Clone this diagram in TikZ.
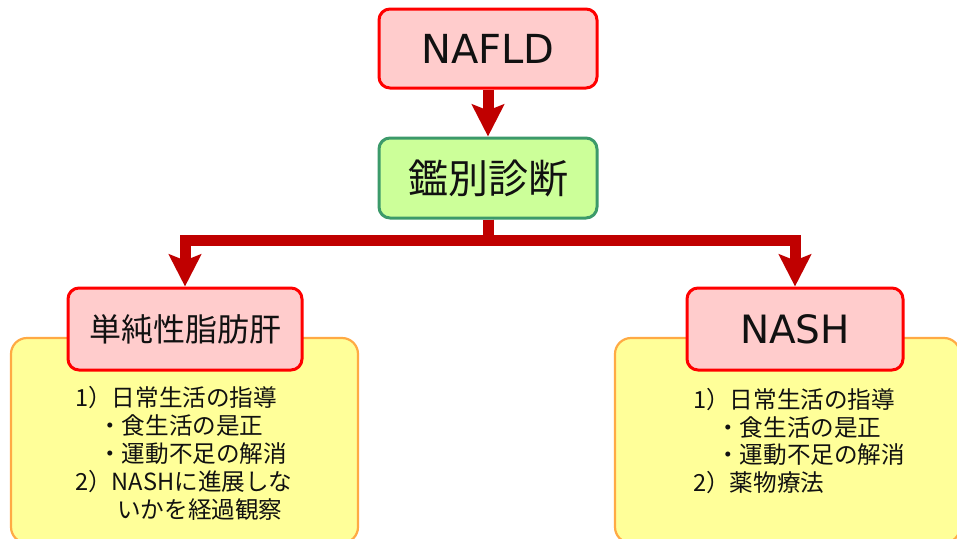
\documentclass[tikz,border=0pt]{standalone}
\usepackage{fontspec}
\setmainfont{DejaVu Sans}
\newfontfamily\jp{Noto Sans CJK JP}
\newfontfamily\lat{DejaVu Sans}
\usetikzlibrary{arrows.meta}
\definecolor{redline}{HTML}{FF0000}
\definecolor{redfill}{HTML}{FFCCCC}
\definecolor{greenline}{HTML}{3C9A6A}
\definecolor{greenfill}{HTML}{CCFF99}
\definecolor{yelfill}{HTML}{FFFF99}
\definecolor{yelline}{HTML}{FFAA44}
\definecolor{arrowred}{HTML}{C00000}
\definecolor{txt}{HTML}{111111}
\tikzset{
  redbox/.style={draw=redline, fill=redfill, line width=3pt, rounded corners=11pt, inner sep=0pt, text=txt},
  greenbox/.style={draw=greenline, fill=greenfill, line width=3pt, rounded corners=11pt, inner sep=0pt, text=txt},
  yelbox/.style={draw=yelline, fill=yelfill, line width=2.2pt, rounded corners=16pt},
  bigarrow/.style={draw=arrowred, line width=11pt, line join=miter, -{Stealth[length=32pt,width=32pt,inset=6pt]}},
  bodytext/.style={anchor=base west, inner sep=0pt, text=txt, font=\jp\fontsize{23.6pt}{28pt}\selectfont}
}
\begin{document}
\begin{tikzpicture}[x=1pt,y=-1pt]
\useasboundingbox (0,0) rectangle (957,538);
\clip (0,0) rectangle (957,538);
% yellow panels
\draw[yelbox] (11,338) rectangle (358,543);
\draw[yelbox] (615,338) rectangle (960,543);
% title boxes
\node[redbox, minimum width=218pt, minimum height=79pt, font=\lat\fontsize{40pt}{44pt}\selectfont] (nafld) at (488,48.5) {NAFLD};
\node[greenbox, minimum width=218pt, minimum height=80pt, font=\jp\fontsize{40pt}{44pt}\selectfont] (kb) at (488,178) {鑑別診断};
\node[redbox, minimum width=234pt, minimum height=82pt, font=\jp\fontsize{32pt}{36pt}\selectfont] (simple) at (185,329) {単純性脂肪肝};
\node[redbox, minimum width=216pt, minimum height=82pt, font=\lat\fontsize{39pt}{44pt}\selectfont] (nash) at (795,329) {NASH};
% connectors
\draw[bigarrow] (nafld.south) -- (kb.north);
\draw[bigarrow] (kb.south) -- ++(0,21) -| (simple.north);
\draw[bigarrow] (kb.south) -- ++(0,21) -| (nash.north);
% left text
\node[bodytext] (l1) at (75,406) {1）日常生活の指導};
\node[bodytext] (l2) at (98,434) {・食生活の是正};
\node[bodytext] (l3) at (98,462) {・運動不足の解消};
\node[bodytext] (l4) at (75,490) {2）NASHに進展しな};
\node[bodytext] (l5) at (117,518) {いかを経過観察};
% right text
\node[bodytext] (r1) at (693,408) {1）日常生活の指導};
\node[bodytext] (r2) at (716,436) {・食生活の是正};
\node[bodytext] (r3) at (716,463) {・運動不足の解消};
\node[bodytext] (r4) at (693,491) {2）薬物療法};
\end{tikzpicture}
\end{document}
